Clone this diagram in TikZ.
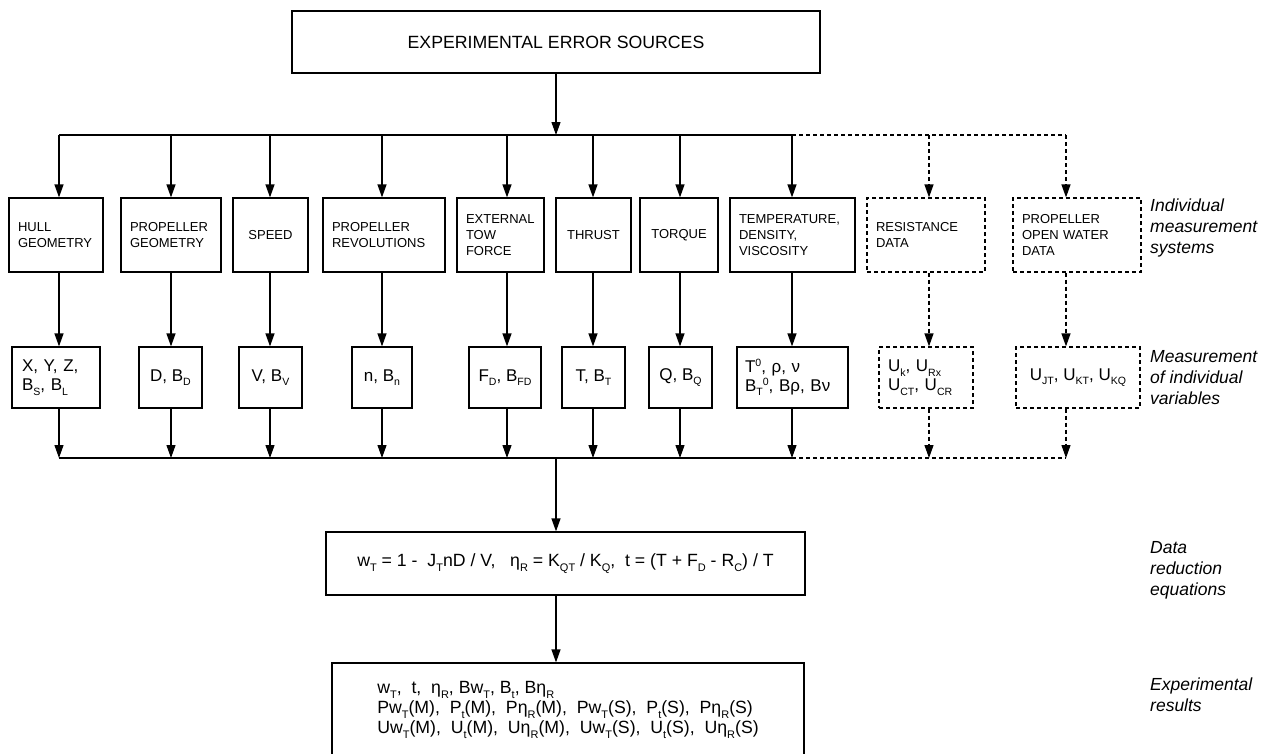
\documentclass[tikz,border=0pt]{standalone}
\usepackage{fontspec}
\setmainfont{Liberation Sans}
\usetikzlibrary{arrows.meta}
\hyphenpenalty=10000
\exhyphenpenalty=10000
\newcommand{\sbs}[1]{\raisebox{-0.27em}{\scalebox{0.62}{#1}}}
\newcommand{\sps}[1]{\raisebox{0.32em}{\scalebox{0.62}{#1}}}
\tikzset{
  box/.style={draw, line width=1.2pt, inner ysep=0pt},
  mbox/.style={box, font=\fontsize{13}{15.7}\selectfont, minimum height=74pt, inner xsep=9pt},
  vbox/.style={box, font=\fontsize{17}{19}\selectfont, minimum height=61pt},
  dsh/.style={dash pattern=on 4pt off 3pt},
  arr/.style={-{Triangle[length=13pt,width=9pt]}, line width=1.2pt},
  bus/.style={line width=1.2pt},
  lab/.style={font=\fontsize{17.5}{21}\selectfont\itshape, align=left, anchor=west, inner sep=0pt},
  big/.style={font=\fontsize{17.7}{20}\selectfont}
}
\begin{document}
\begin{tikzpicture}[x=1pt,y=-1pt]
\useasboundingbox (0,0) rectangle (1270,753);
% top box
\node[box, big, minimum width=528pt, minimum height=62pt, inner xsep=0pt] (top) at (556,42) {EXPERIMENTAL ERROR SOURCES};
% bus coordinates
\coordinate (tc) at (556,135);
\coordinate (bc) at (556,458);
\foreach \i/\x in {1/59,2/171,3/270,4/382,5/507,6/593,7/680,8/792,9/929,10/1066}{
  \coordinate (t\i) at (\x,135);
  \coordinate (b\i) at (\x,458);
}
% measurement systems
\node[mbox, text width=76pt, align=left] (m1) at (56,235) {HULL\\GEOMETRY};
\node[mbox, text width=82pt, align=left] (m2) at (171,235) {PROPELLER\\GEOMETRY};
\node[mbox, text width=57pt, align=center] (m3) at (270.5,235) {SPEED};
\node[mbox, text width=104pt, align=left] (m4) at (384,235) {PROPELLER\\REVOLUTIONS};
\node[mbox, text width=69pt, align=left] (m5) at (500.5,235) {EXTERNAL\\TOW\\FORCE};
\node[mbox, text width=57pt, align=center] (m6) at (593.5,235) {THRUST};
\node[mbox, text width=60pt, align=center] (m7) at (679,235) {TORQUE};
\node[mbox, text width=107pt, align=left] (m8) at (792.5,235) {TEMPERATURE,\\DENSITY,\\VISCOSITY};
\node[mbox, dsh, text width=100pt, align=left] (m9) at (926,235) {RESISTANCE\\DATA};
\node[mbox, dsh, text width=110pt, align=left] (m10) at (1077,235) {PROPELLER\\OPEN WATER\\DATA};
% variables
\node[vbox, inner xsep=10pt, text width=68pt, align=left] (v1) at (56,377.5) {X, Y, Z,\\B\sbs{S}, B\sbs{L}};
\node[vbox, inner xsep=0pt, minimum width=63pt, align=center] (v2) at (170.5,377.5) {D, B\sbs{D}};
\node[vbox, inner xsep=0pt, minimum width=63pt, align=center] (v3) at (270.5,377.5) {V, B\sbs{V}};
\node[vbox, inner xsep=0pt, minimum width=60pt, align=center] (v4) at (382,377.5) {n, B\sbs{n}};
\node[vbox, inner xsep=0pt, minimum width=72pt, align=center] (v5) at (505,377.5) {F\sbs{D}, B\sbs{FD}};
\node[vbox, inner xsep=0pt, minimum width=63pt, align=center] (v6) at (593.5,377.5) {T, B\sbs{T}};
\node[vbox, inner xsep=0pt, minimum width=63pt, align=center] (v7) at (680.5,377.5) {Q, B\sbs{Q}};
\node[vbox, inner xsep=8pt, text width=95pt, align=left] (v8) at (792.5,377.5) {T\sps{0}, ρ, ν\\B\sbs{T}\sps{0}, Bρ, Bν};
\node[vbox, dsh, inner xsep=9pt, text width=76pt, align=left] (v9) at (926,377.5) {U\sbs{k}, U\sbs{Rx}\\U\sbs{CT}, U\sbs{CR}};
\node[vbox, dsh, inner xsep=0pt, minimum width=124pt, align=center] (v10) at (1078,377.5) {U\sbs{JT}, U\sbs{KT}, U\sbs{KQ}};
% equations and results
\node[box, big, minimum width=479pt, minimum height=63pt, inner xsep=0pt] (eq) at (565.5,563.5)
  {w\sbs{T} = 1 -~~J\sbs{T}nD / V,~~~η\sbs{R} = K\sbs{QT} / K\sbs{Q},~~t = (T + F\sbs{D} - R\sbs{C}) / T};
\node[box, big, minimum width=472pt, minimum height=94pt, inner xsep=0pt, align=left] (res) at (568,710)
  {w\sbs{T},~~t,~~η\sbs{R}, Bw\sbs{T}, B\sbs{t}, Bη\sbs{R}\\
   Pw\sbs{T}(M),~~P\sbs{t}(M),~~Pη\sbs{R}(M),~~Pw\sbs{T}(S),~~P\sbs{t}(S),~~Pη\sbs{R}(S)\\
   Uw\sbs{T}(M),~~U\sbs{t}(M),~~Uη\sbs{R}(M),~~Uw\sbs{T}(S),~~U\sbs{t}(S),~~Uη\sbs{R}(S)};
% side labels
\node[lab] (l1) at (1150,228) {Individual\\measurement\\systems};
\node[lab] (l2) at (1150,378) {Measurement\\of individual\\variables};
\node[lab] (l3) at (1150,570) {Data\\reduction\\equations};
\node[lab] (l4) at (1150,695) {Experimental\\results};
% connectors
\draw[arr] (top.south) -- (tc);
\draw[bus] (t1) -- (t8);
\draw[bus, dsh] (t8) -- (t10);
\draw[bus] (b1) -- (b8);
\draw[bus, dsh] (b8) -- (b10);
\foreach \i in {1,...,8}{
  \draw[arr] (t\i) -- (t\i |- m\i.north);
  \draw[arr] (m\i.south -| t\i) -- (t\i |- v\i.north);
  \draw[arr] (v\i.south -| t\i) -- (b\i);
}
\foreach \i in {9,10}{
  \draw[arr, dsh] (t\i) -- (t\i |- m\i.north);
  \draw[arr, dsh] (m\i.south -| t\i) -- (t\i |- v\i.north);
  \draw[arr, dsh] (v\i.south -| t\i) -- (b\i);
}
\draw[arr] (bc) -- (bc |- eq.north);
\draw[arr] (eq.south -| bc) -- (bc |- res.north);
\end{tikzpicture}
\end{document}
